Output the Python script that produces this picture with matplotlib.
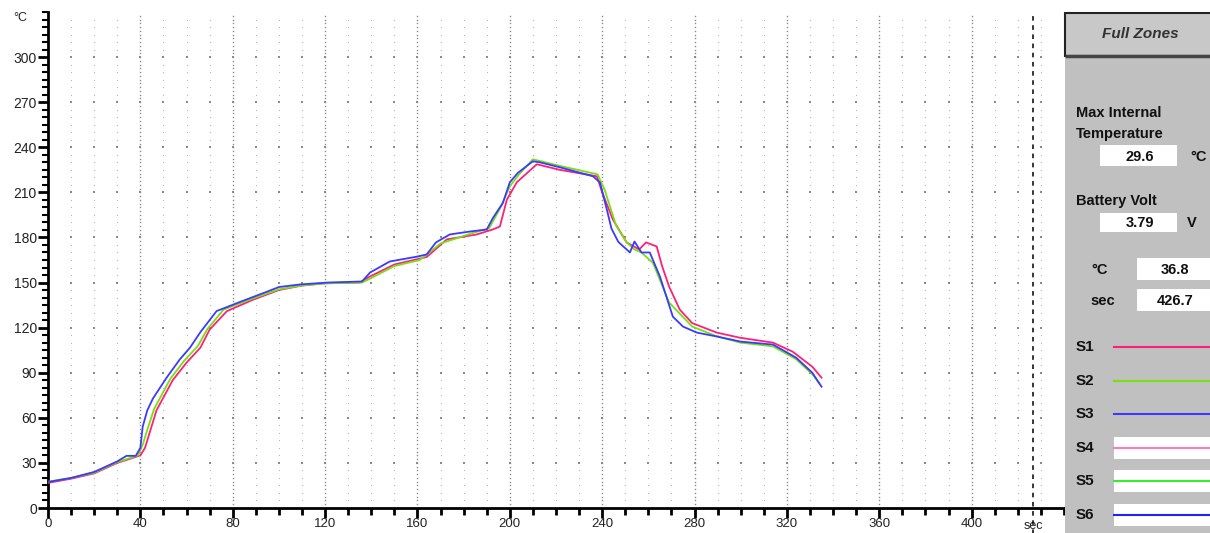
import numpy as np
import matplotlib.pyplot as plt
from matplotlib.patches import Rectangle
from matplotlib.transforms import blended_transform_factory

plt.rcParams['font.family'] = ['Liberation Sans', 'DejaVu Sans']

# S1 (pink-red)
t1 = [0, 10, 20, 30, 35, 40, 42, 44, 47, 54, 60, 66, 70, 77.5, 89, 100, 110, 120, 135, 139.4,
      150, 164, 172.7, 185.7, 192.6, 195.7, 198.7, 203, 211.7, 221.6, 237.7, 240, 244.6, 250.6,
      256, 259, 263.6, 266, 269, 273.6, 279, 289.6, 299.6, 314, 322.5, 331, 335]
T1 = [16.7, 19.5, 23, 30, 32.5, 35, 40, 50, 65, 85, 96.7, 106.7, 118.7, 131, 138.7, 145, 148,
      149.5, 150, 154, 162, 167, 178.7, 182, 185.3, 187.3, 205, 216.7, 228.7, 225, 220.7, 210,
      192, 176.7, 172, 176.7, 174, 160.7, 147.3, 132, 123, 116.7, 113.3, 110, 104, 94, 86.7]

# S2 (green)
t2 = [0, 10, 20, 30, 35, 39, 41, 43, 46, 53, 59, 65, 69, 76, 88, 100, 110, 120, 136, 140, 150,
      161, 170, 184, 191, 196, 200, 204, 210, 222, 238, 241, 246, 250.6, 254, 257, 262, 269, 279,
      290, 300, 314, 324, 331, 334]
T2 = [17.5, 20, 23.5, 30.5, 33, 35, 42, 52, 66, 86, 98, 108, 119, 132, 139, 145.5, 148, 149.5,
      150, 153, 161, 165, 176, 183, 186, 200, 214, 222, 232, 227.5, 222, 212, 188, 176.7, 172,
      170, 163, 136.7, 120.7, 114, 110, 107.5, 99, 89, 83]

# S3 (blue)
t3 = [0, 10, 20, 30, 34, 38, 40, 41, 43, 45.5, 51.5, 57, 61.5, 66, 73, 83, 95, 100, 109, 121,
      136, 139.5, 148, 160, 164, 168, 174, 183, 190, 192.7, 197, 200, 203.5, 210, 213, 221.6,
      236, 239, 242, 244, 247, 250.6, 252, 254, 257, 260.6, 265, 270.6, 275, 281, 290, 300, 314,
      324, 331, 335]
T3 = [17.3, 20, 24, 31, 34.7, 34.7, 40, 54, 65, 73, 87, 98.7, 106.7, 117, 131, 137, 144, 147,
      148.7, 150, 150.7, 156.7, 164, 167.3, 168.7, 176.7, 182, 184, 185.3, 193, 203, 216.7, 223,
      230.7, 230, 226.7, 220.7, 216.7, 198.7, 186, 177, 172, 170, 177.3, 170, 170, 154, 127.3,
      120.7, 116.7, 114, 110.7, 108.7, 100, 90, 80.7]

sensor_names = ['S1', 'S2', 'S3', 'S4', 'S5', 'S6']
sensor_colors = ['#ff1f78', '#77e010', '#3a3aff', '#ff7ab8', '#33ee33', '#2020ff']

x_ticks = [0, 40, 80, 120, 160, 200, 240, 280, 320, 360, 400]
y_ticks = [0, 30, 60, 90, 120, 150, 180, 210, 240, 270, 300]

cursor_sec = 426.7
max_internal = '29.6'
battery_volt = '3.79'
cursor_temp = '36.8'

W, H = 1210, 533
fig = plt.figure(figsize=(W / 100, H / 100), dpi=100)
fig.patch.set_facecolor('white')

x0, x1, ytop, ybot = 48, 1064, 12, 508
ax = fig.add_axes([x0 / W, (H - ybot) / H, (x1 - x0) / W, (ybot - ytop) / H])
ax.set_xlim(0, 440)
ax.set_ylim(0, 330)

# dotted grid
for tc in range(10, 440, 10):
    major = tc % 40 == 0
    ys = np.arange(2.5 if major else 5, 330, 2.5 if major else 5)
    ax.plot([tc] * len(ys), ys, 's', ms=1.0 if major else 0.8,
            color='#8a8a8a' if major else '#b8b8b8', mew=0, zorder=1)
    ax.plot([tc] * 10, np.arange(30, 330, 30), 's', ms=1.8, color='#8a8a8a', mew=0, zorder=1)

ax.plot(t1, T1, color=sensor_colors[0], lw=1.3, zorder=3)
ax.plot(t2, T2, color=sensor_colors[1], lw=1.3, zorder=3)
ax.plot(t3, T3, color=sensor_colors[2], lw=1.3, zorder=4)

ax.axvline(cursor_sec, ymin=-0.06, ymax=1, color='black', lw=1.1,
           ls=(0, (3, 3)), clip_on=False, zorder=5)

for s in ['top', 'right']:
    ax.spines[s].set_visible(False)
for s in ['left', 'bottom']:
    ax.spines[s].set_linewidth(2)

ax.set_xticks(x_ticks)
ax.set_xticks(np.arange(0, 441, 10), minor=True)
ax.set_yticks(y_ticks)
ax.set_yticks(np.arange(0, 331, 5), minor=True)
ax.tick_params(axis='both', which='major', direction='out', width=2, labelsize=10,
               colors='black')
ax.tick_params(axis='x', which='major', length=7, pad=0, labelsize=9.5)
ax.tick_params(axis='x', which='minor', length=5, width=2)
ax.tick_params(axis='y', which='major', length=7, pad=1)
ax.tick_params(axis='y', which='minor', length=4, width=1.5)
ax.set_xticklabels([str(v) for v in x_ticks], color='#222222')
ax.set_yticklabels([str(v) for v in y_ticks], color='#222222')

ax.text(-0.02, 1.0, '°C', transform=ax.transAxes, ha='right', va='top', fontsize=9,
        color='#222222')
tr = blended_transform_factory(ax.transData, ax.transAxes)
ax.text(cursor_sec, -0.025, 'sec', transform=tr, ha='center', va='top', fontsize=9,
        color='#222222', clip_on=False)

# right panel in pixel coordinates
p = fig.add_axes([0, 0, 1, 1], zorder=10)
p.set_xlim(0, W)
p.set_ylim(H, 0)
p.axis('off')

p.add_patch(Rectangle((1065, 57), 150, 480, color='#c0c0c0', lw=0))
p.add_patch(Rectangle((1065, 13), 150, 43, facecolor='#c8c8c8', edgecolor='#222222', lw=1.5))
p.plot([1067, 1210], [56, 56], color='#444444', lw=2.5)
p.text(1140, 34, 'Full Zones', ha='center', va='center', fontsize=11, fontweight='bold',
       fontstyle='italic', color='#333333')

bold = dict(fontsize=10.5, fontweight='bold', color='#111111', va='center')
p.text(1076, 113, 'Max Internal', ha='left', **bold)
p.text(1076, 134, 'Temperature', ha='left', **bold)
p.add_patch(Rectangle((1100, 145), 77, 21, color='white', lw=0))
p.text(1140, 157, max_internal, ha='center', **bold)
p.text(1199, 157, '°C', ha='center', **bold)

p.text(1076, 201, 'Battery Volt', ha='left', **bold)
p.add_patch(Rectangle((1100, 213), 77, 19, color='white', lw=0))
p.text(1140, 223, battery_volt, ha='center', **bold)
p.text(1192, 223, 'V', ha='center', **bold)

p.text(1100, 270, '°C', ha='center', **bold)
p.add_patch(Rectangle((1137, 258), 73, 22, color='white', lw=0))
p.text(1175, 270, cursor_temp, ha='center', **bold)
p.text(1103, 301, 'sec', ha='center', **bold)
p.add_patch(Rectangle((1137, 289), 73, 22, color='white', lw=0))
p.text(1175, 301, '%.1f' % cursor_sec, ha='center', **bold)

row_y = [347, 381, 414, 448, 481, 515]
for i, (name, col) in enumerate(zip(sensor_names, sensor_colors)):
    yy = row_y[i]
    p.text(1076, yy, name, ha='left', fontsize=11, fontweight='bold', color='#111111',
           va='center')
    if i >= 3:
        p.add_patch(Rectangle((1114, yy - 11), 100, 22, color='white', lw=0))
    p.plot([1114, 1210], [yy, yy], color=col, lw=1.5)

fig.savefig('out.png', dpi=100)
